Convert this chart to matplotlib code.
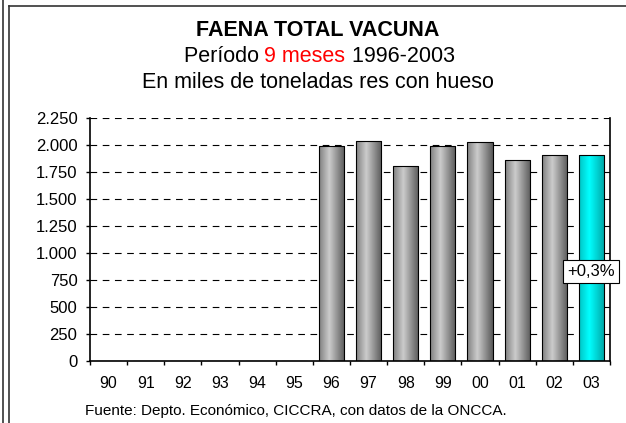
import numpy as np
import matplotlib
matplotlib.use("Agg")
import matplotlib.pyplot as plt
from matplotlib.lines import Line2D
from matplotlib.ticker import FuncFormatter, MultipleLocator

plt.rcParams['font.family'] = ['Liberation Sans', 'DejaVu Sans']

# data (miles de toneladas res con hueso, 9 meses)
years = ['90', '91', '92', '93', '94', '95', '96', '97', '98', '99', '00', '01', '02', '03']
faena = [0, 0, 0, 0, 0, 0, 1995, 2040, 1805, 1990, 2030, 1865, 1905, 1911]
var_label = '+0,3%'

W, H = 626, 423
fig = plt.figure(figsize=(W / 100, H / 100), dpi=100)
ax = fig.add_axes([90 / W, 1 - 361 / H, 520 / W, 243 / H])

x = np.arange(len(years))
bw = 0.68
grad = np.linspace(0, 1, 200)
shade = 1 - np.abs(grad - 0.4) / 0.6
gray = np.stack([0.35 + 0.45 * shade] * 3, axis=-1)
cyan = np.stack([0.0 * shade, 0.65 + 0.35 * shade, 0.65 + 0.35 * shade], axis=-1)

bars = ax.bar(x, faena, width=bw, color='none', edgecolor='black', linewidth=0.8, zorder=3)
for i, b in enumerate(bars):
    if faena[i] <= 0:
        continue
    img = cyan if i == len(years) - 1 else gray
    im = ax.imshow(img[np.newaxis, :, :], aspect='auto', zorder=2,
                   extent=[b.get_x(), b.get_x() + b.get_width(), 0, b.get_height()])
    im.set_clip_path(b)

ax.set_xlim(-0.5, len(years) - 0.5)
ax.set_ylim(0, 2250)
ax.yaxis.set_major_locator(MultipleLocator(250))
ax.yaxis.set_major_formatter(FuncFormatter(lambda v, p: f'{int(v):,}'.replace(',', '.')))
ax.set_xticks(x)
ax.set_xticklabels(years)
ax.set_xticks(np.arange(-0.5, len(years)), minor=True)
ax.tick_params(axis='x', which='major', length=0, pad=11, labelsize=11.5)
ax.tick_params(axis='x', which='minor', length=3, direction='out', width=1)
ax.tick_params(axis='y', length=3, direction='out', width=1, labelsize=12, pad=6)

for v in range(250, 2251, 250):
    ax.axhline(v, color='black', linestyle=(0, (6, 5)), linewidth=0.8, zorder=1)

ax.spines['top'].set_visible(False)
for s in ['left', 'right', 'bottom']:
    ax.spines[s].set_linewidth(1.2)

ax.text(x[-1], 830, var_label, ha='center', va='center', fontsize=12, zorder=5,
        bbox=dict(boxstyle='square,pad=0.25', facecolor='white', edgecolor='black', linewidth=0.8))

# titles
fs = 15.5
fig.text(318 / W, 1 - 31 / H, 'FAENA TOTAL VACUNA', ha='center', va='center',
         fontsize=fs, fontweight='bold')
parts = [('Período ', 'black'), ('9 meses', 'red'), (' 1996-2003', 'black')]
fig.canvas.draw()
r = fig.canvas.get_renderer()
widths = []
for s, c in parts:
    t = fig.text(0, 0, s, fontsize=fs)
    widths.append(t.get_window_extent(r).width)
    t.remove()
xpos = 319 - sum(widths) / 2
for (s, c), w in zip(parts, widths):
    fig.text(xpos / W, 1 - 56 / H, s, ha='left', va='center', fontsize=fs, color=c)
    xpos += w
fig.text(318 / W, 1 - 82 / H, 'En miles de toneladas res con hueso', ha='center', va='center',
         fontsize=fs)
fig.text(85 / W, 1 - 411 / H, 'Fuente: Depto. Económico, CICCRA, con datos de la ONCCA.',
         ha='left', va='center', fontsize=11)

# frame
fig.add_artist(Line2D([2.5 / W, 2.5 / W], [0, 1], color='#333333', linewidth=1.2))
fig.add_artist(Line2D([8.5 / W, 8.5 / W], [0, 1 - 6 / H], color='#333333', linewidth=1.2))
fig.add_artist(Line2D([8.5 / W, 1], [1 - 6 / H, 1 - 6 / H], color='#333333', linewidth=1.2))

fig.savefig('out.png', dpi=100)
